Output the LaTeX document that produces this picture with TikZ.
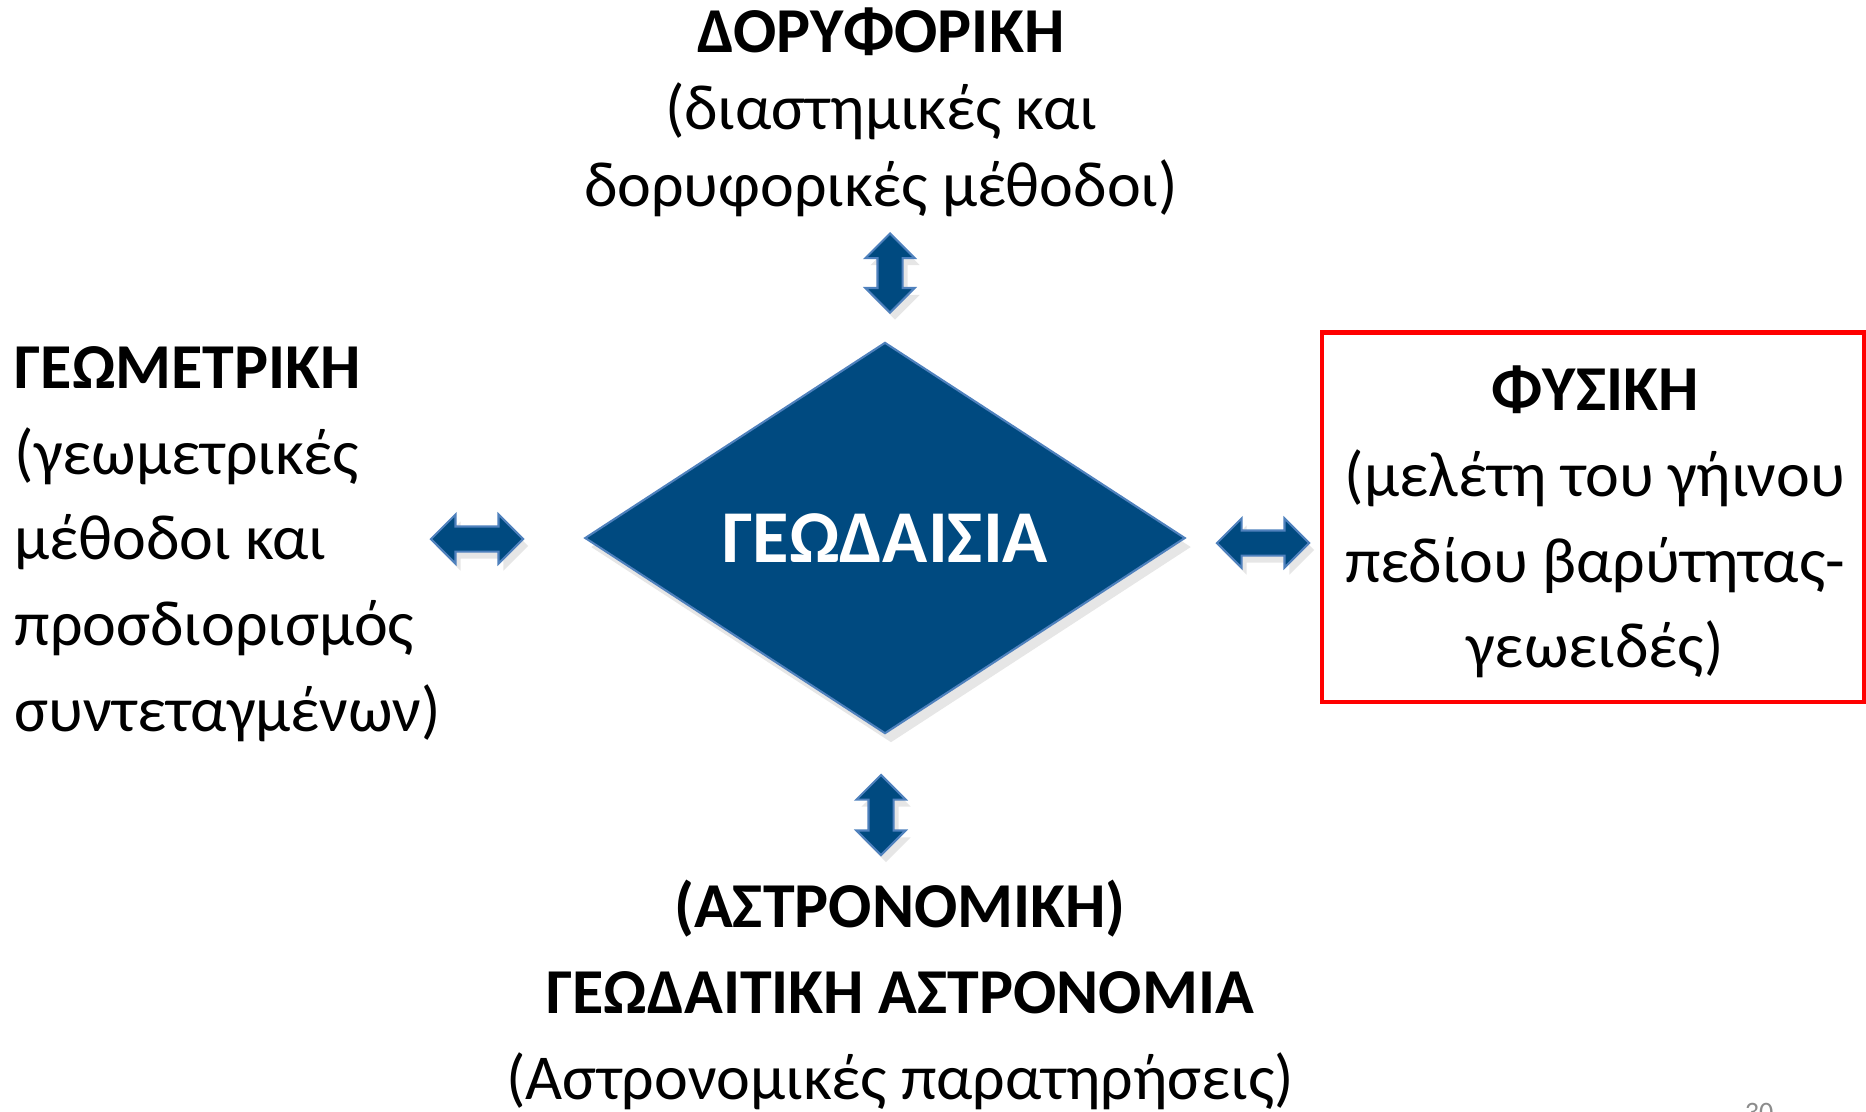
\documentclass[tikz,border=0pt]{standalone}
\usepackage{fontspec}
\setmainfont{Carlito}
\usetikzlibrary{shapes.geometric,shapes.arrows,shadows}

\definecolor{geoblue}{HTML}{004A80}
\definecolor{geoedge}{HTML}{4F81BD}
\definecolor{boxred}{HTML}{FF0000}
\definecolor{pagegray}{HTML}{8C8C8C}

\tikzset{
	twoway/.style={double arrow, fill=geoblue, draw=geoedge, line width=0.6pt,
		inner sep=0.115cm, double arrow head extend=0.12cm,
		drop shadow={shadow xshift=0.05cm, shadow yshift=-0.07cm, opacity=0.2}},
	topic/.style={align=center, inner sep=0pt, font=\fontsize{18.2}{24.4}\selectfont},
}

\begin{document}
\begin{tikzpicture}[x=0.01cm,y=-0.01cm]
					\useasboundingbox (0,0) rectangle (1866,1111);

					% centre of the scheme
					\node[diamond, aspect=1.535, minimum width=6cm, minimum height=3.91cm, inner sep=0pt,
						fill=geoblue, draw=geoedge, line width=0.6pt,
						drop shadow={shadow xshift=0.06cm, shadow yshift=-0.09cm, opacity=0.2},
						text=white, font=\fontsize{21.2}{26}\selectfont\bfseries] (geod) at (885,538) {ΓΕΩΔΑΙΣΙΑ};

					% the four branches
					\node[topic, font=\fontsize{18.2}{21.9}\selectfont] (dor) at (881,112)
						{\textbf{ΔΟΡΥΦΟΡΙΚΗ}\\(διαστημικές και\\δορυφορικές μέθοδοι)};
					\node[topic, align=left, anchor=west] (geom) at (14,544)
						{\textbf{ΓΕΩΜΕΤΡΙΚΗ}\\(γεωμετρικές\\μέθοδοι και\\προσδιορισμός\\συντεταγμένων)};
					\node[draw=boxred, line width=1.2pt, inner sep=0pt, minimum width=5.41cm, minimum height=3.69cm] (fys) at (1593,517) {};
					\node[topic] (fystext) at (1595,522)
						{\textbf{ΦΥΣΙΚΗ}\\(μελέτη του γήινου\\πεδίου βαρύτητας-\\γεωειδές)};
					\node[topic] (astr) at (900,995)
						{\textbf{(ΑΣΤΡΟΝΟΜΙΚΗ)}\\\textbf{ΓΕΩΔΑΙΤΙΚΗ ΑΣΤΡΟΝΟΜΙΑ}\\(Αστρονομικές παρατηρήσεις)};

					% two-way arrows
					\node[twoway, shape border rotate=90, minimum height=0.79cm] (a1) at (890,273) {};
					\node[twoway, minimum height=0.92cm] (a2) at (477,539) {};
					\node[twoway, minimum height=0.92cm] (a3) at (1263,543) {};
					\node[twoway, shape border rotate=90, minimum height=0.80cm] (a4) at (881,815) {};

					% page number
					\node[anchor=base, text=pagegray, font=\fontsize{8}{10}\selectfont] (pg) at (1759,1121) {30};
\end{tikzpicture}
\end{document}
